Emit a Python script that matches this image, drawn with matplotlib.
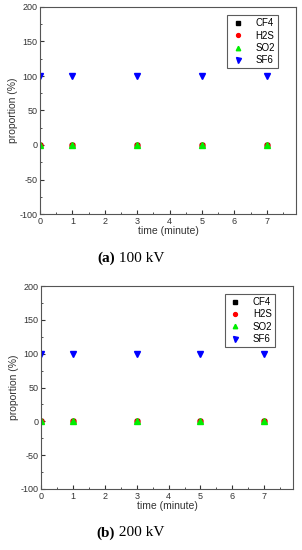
import matplotlib.pyplot as plt
from matplotlib.ticker import MultipleLocator

plt.rcParams['font.family'] = ['Liberation Sans', 'DejaVu Sans']
plt.rcParams['axes.unicode_minus'] = False

# data
time_min = [0, 1, 3, 5, 7]
CF4 = [0, 0, 0, 0, 0]
H2S = [0, 0, 0, 0, 0]
SO2 = [0, 0, 0, 0, 0]
SF6 = [100, 100, 100, 100, 100]
panels = [("(a)", " 100 kV"), ("(b)", " 200 kV")]

fig = plt.figure(figsize=(3.02, 5.5), dpi=100)
rects = [[40 / 302, 1 - 214 / 550, 256 / 302, 207 / 550],
         [41 / 302, 1 - 489 / 550, 252 / 302, 203 / 550]]
cap_y = [1 - 258 / 550, 1 - 533 / 550]

for i, (tag, volt) in enumerate(panels):
    ax = fig.add_axes(rects[i])
    ax.plot(time_min, CF4, 's', color='black', ms=3.5, label='CF4')
    ax.plot(time_min, H2S, 'o', color='red', ms=3.5, label='H2S')
    ax.plot(time_min, SO2, '^', color='#00ee00', ms=4, label='SO2')
    ax.plot(time_min, SF6, 'v', color='blue', ms=4.5, label='SF6')
    ax.set_xlim(0, 7.9)
    ax.set_ylim(-100, 200)
    ax.xaxis.set_major_locator(MultipleLocator(1))
    ax.xaxis.set_minor_locator(MultipleLocator(0.5))
    ax.yaxis.set_major_locator(MultipleLocator(50))
    ax.yaxis.set_minor_locator(MultipleLocator(25))
    ax.tick_params(which='both', direction='in', labelsize=6.5, colors='#333333', pad=2)
    ax.tick_params(which='major', length=3)
    ax.tick_params(which='minor', length=1.5)
    for s in ax.spines.values():
        s.set_color('#555555')
        s.set_linewidth(0.8)
    ax.set_xlabel('time (minute)', fontsize=7.5, labelpad=0, color='#333333')
    ax.set_ylabel('proportion (%)', fontsize=7.5, labelpad=1, color='#333333')
    leg = ax.legend(loc='upper right', fontsize=7, frameon=True, fancybox=False,
                    edgecolor='#333333', handletextpad=1.0, borderpad=0.3,
                    labelspacing=0.25, markerscale=0.8, handlelength=1.6,
                    borderaxespad=0, bbox_to_anchor=(0.93, 0.96))
    leg.get_frame().set_linewidth(0.8)
    fig.text(0.38, cap_y[i], tag, fontsize=11, fontweight='bold',
             family='Liberation Serif', ha='right', va='center')
    fig.text(0.38, cap_y[i], volt, fontsize=11, family='Liberation Serif',
             ha='left', va='center')

fig.savefig('out.png', dpi=100)
